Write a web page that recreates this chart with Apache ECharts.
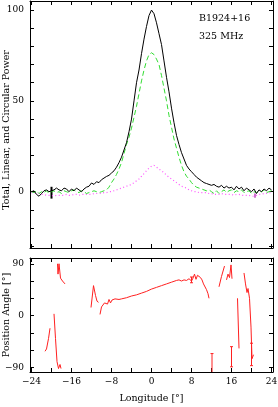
<!DOCTYPE html>
<html><head><meta charset="utf-8">
<script src="https://cdn.jsdelivr.net/npm/echarts@6/dist/echarts.min.js"></script>
<style>html,body{margin:0;padding:0;background:#fff}#c{width:278px;height:407px}</style>
</head><body><div id="c"></div>
<script>
// Longitude grid (deg)
const lon = [-24,-23.5,-23,-22.5,-22,-21.5,-21,-20.5,-20,-19.5,-19,-18.5,-18,-17.5,-17,-16.5,-16,-15.5,-15,-14.5,-14,-13.5,-13,-12.5,-12,-11.5,-11,-10.5,-10,-9.5,-9,-8.5,-8,-7.5,-7,-6.5,-6,-5.5,-5,-4.5,-4,-3.5,-3,-2.5,-2,-1.5,-1,-0.5,0,0.5,1,1.5,2,2.5,3,3.5,4,4.5,5,5.5,6,6.5,7,7.5,8,8.5,9,9.5,10,10.5,11,11.5,12,12.5,13,13.5,14,14.5,15,15.5,16,16.5,17,17.5,18,18.5,19,19.5,20,20.5,21,21.5,22,22.5,23,23.5,24];
// Total power
const totalI = [0,0.5,-1.5,-2.5,-1,0.5,1,0,0.5,1,2,1,0.5,2,1.5,0,1.5,0.5,2,1,0,1.5,2.5,3,4.8,4,5.5,5,6.6,7.5,8.4,9,10.3,11.5,13.5,16,19,23,27,33,40,50,60,67,76,84,91,97,100,98,93,87,81,72,63,55,46,38,31,26,21.5,18,14.5,12.5,11,9.5,8,7,6,5,4.5,4,3.5,4,3,2.5,3.5,2,3,2,2.5,1,3,1.5,2.5,0.5,2,1,0,1.5,-1,1,0,1.5,0.5,2,1];
// Linear power
const linearL = [0,-0.5,0.5,-1,0,-0.5,0.5,-1,0,0.5,-0.5,0,-1,0.5,0,-0.5,0.5,1,0,-0.5,0.5,0,-1,-0.5,0,0.5,0,-0.5,0,0.5,1,2.5,5,7,9.5,12.5,16,21,26,30,35,41,47,54,61,67,72,75.5,76.5,75.5,73,70,64,57,50,42,35.5,29,24,19,14.5,11,8.5,7,5,3.5,2.5,2,1.5,1,0.5,1,0,-1,0.5,-1,0,1,-0.5,0.5,1,-0.5,0.5,0,1,-0.5,0,0.5,-1,0,-0.5,0.5,0,1,-0.5,0,0.5];
// Circular power
const circularV = [-0.5,-0.5,-1,-1,-1.5,-1.5,-2,-2,-2,-2.5,-2,-2,-2,-2,-1.5,-2,-2,-1.5,-1.5,-2,-1.5,-1.5,-1.5,-1.5,-1.5,-1,-1,-1,-1,-0.5,-0.5,0,0,0.5,1,1.5,2,2.5,3,3.5,4,5,6,7,8.5,10,11.5,13,14,14.5,13.5,12.5,11.5,10.5,9,8,7,6,5,4,3,2.5,2,1,0.5,0,0,-0.5,-0.5,-0.5,-0.5,-1,-1,-1.5,-1.5,-1.5,-1,-1.5,-1.5,-1.5,-1.5,-2,-1.5,-1.5,-2,-2,-2,-2,-2.5,-2.5,-2,-1.5,-1.5,-1,-1,-0.5,-0.5];
// Noise error bars in the power panel: [lon, low, high]
const powerErr = [[-20,-3.8,2.7],[20.7,-3.3,-1]];
// Position angle (null separates segments)
const paLon = [-21.3,-21.0,-20.6,-20.3,null,
  -19.5,-19.2,-18.9,-18.6,-18.3,-18.1,null,
  -18.8,-18.7,-18.5,-18.2,-17.8,-17.3,null,
  -12.1,-11.6,-11.2,-10.9,-10.6,null,
  -10.3,-10.0,-9.7,-9.4,-9.1,-8.8,-8.5,-8.2,-7.9,-7.6,-7.3,-7.0,-6.5,-6,-5,-4,-3,-2,-1,0,1,2,3,4,5,5.5,6,6.5,7,7.5,8,8.3,8.6,8.9,9.2,9.5,9.8,10.1,10.4,10.7,11.0,11.3,11.5,null,
  13.5,14.0,14.6,null,
  15.0,15.3,15.6,15.9,16.1,null,
  17.2,17.5,null,
  18.5,18.8,19.1,19.3,19.6,19.9,20.1,20.4];
const paVal = [-62,-58,-40,-22,null,
  3,-40,-80,-92,-85,-92,null,
  90,72,90,65,60,55,null,
  14,52,35,25,23,null,
  2,15,12,22,25,20,28,22,27,24,29,27,28,29,31,34,36,39,42,46,49,52,55,58,61,62,60,62,61,64,60,65,72,63,70,73,66,62,55,52,45,38,30,null,
  50,68,86,null,
  62,72,66,88,64,null,
  30,-57,null,
  74,55,40,47,30,-20,-75,-68];
// PA error bars: [lon, low, high]
const paErr = [[8.0,57,67],[12.1,-110,-66],[16.0,-89,-54],[20.0,-87,-48]];
// Tick values
const xTicks = [-24,-20,-16,-12,-8,-4,0,4,8,12,16,20,24];
const xLabels = [-24,-16,-8,0,8,16,24];
const powTicks = [-30,-20,-10,0,10,20,30,40,50,60,70,80,90,100];
const powLabels = [0,50,100];
const paTicks = [-90,-60,-30,0,30,60,90];
const paLabels = [-90,0,90];

const zip = (a,b) => a.map((v,i) => [v, b[i]]);
const paData = paLon.map((v,i) => v === null ? [null,null] : [v, paVal[i]]);

const SERIF = '"DejaVu Serif", "Liberation Serif", serif';
const minus = v => String(v).replace('-', '\u2212');

function axisCommon(extra) {
  return Object.assign({
    type: 'value',
    axisLine: {show: true, onZero: false, lineStyle: {color: '#000', width: 1}},
    splitLine: {show: false},
    minorTick: {show: false},
    nameMoveOverlap: false
  }, extra);
}
function xAxis(grid, pos, showLabels, name) {
  return axisCommon({
    gridIndex: grid, position: pos, min: -24.3, max: 24.3,
    axisTick: {show: true, inside: true, length: 4, customValues: xTicks, lineStyle: {color: '#000'}},
    axisLabel: {show: showLabels, customValues: xLabels, margin: 5, color: '#000', fontFamily: SERIF, fontSize: 9, formatter: minus},
    name: name || '', nameLocation: 'middle', nameGap: 22,
    nameTextStyle: {fontFamily: SERIF, fontSize: 9.5, color: '#000'}
  });
}
function yAxis(grid, pos, min, max, ticks, labels, showLabels, name) {
  return axisCommon({
    gridIndex: grid, position: pos, min: min, max: max,
    axisTick: {show: true, inside: true, length: 4, customValues: ticks, lineStyle: {color: '#000'}},
    axisLabel: {show: showLabels, customValues: labels, margin: 6, color: '#000', fontFamily: SERIF, fontSize: 9, formatter: minus},
    name: name || '', nameLocation: 'middle', nameGap: 18, nameRotate: 90,
    nameTextStyle: {fontFamily: SERIF, fontSize: 9.5, color: '#000'}
  });
}

function errRender(cap, width, color) {
  return function (params, api) {
    const x = api.value(0);
    const p1 = api.coord([x, api.value(1)]);
    const p2 = api.coord([x, api.value(2)]);
    const children = [{type: 'line', shape: {x1: p1[0], y1: p1[1], x2: p2[0], y2: p2[1]}, style: {stroke: color, lineWidth: width}}];
    if (cap > 0) {
      children.push({type: 'line', shape: {x1: p1[0]-cap, y1: p1[1], x2: p1[0]+cap, y2: p1[1]}, style: {stroke: color, lineWidth: 1}});
      children.push({type: 'line', shape: {x1: p2[0]-cap, y1: p2[1], x2: p2[0]+cap, y2: p2[1]}, style: {stroke: color, lineWidth: 1}});
    }
    return {type: 'group', children: children};
  };
}

const chart = echarts.init(document.getElementById('c'), null, {renderer: 'canvas'});
chart.setOption({
  animation: false,
  backgroundColor: '#fff',
  grid: [
    {left: 30, top: 1, width: 243, height: 247, containLabel: false, outerBoundsMode: 'none'},
    {left: 30, top: 258, width: 243, height: 114, containLabel: false, outerBoundsMode: 'none'}
  ],
  xAxis: [
    xAxis(0, 'bottom', false),
    xAxis(0, 'top', false),
    xAxis(1, 'bottom', true, 'Longitude [\u00b0]'),
    xAxis(1, 'top', false)
  ],
  yAxis: [
    yAxis(0, 'left', -31, 105, powTicks, powLabels, true),
    yAxis(0, 'right', -31, 105, powTicks, powLabels, false),
    yAxis(1, 'left', -98, 100, paTicks, paLabels, true, 'Position Angle [\u00b0]'),
    yAxis(1, 'right', -98, 100, paTicks, paLabels, false)
  ],
  graphic: [
    {type: 'text', x: 7, y: 130, rotation: Math.PI / 2,
      style: {text: 'Total, Linear, and Circular Power', font: '9.5px ' + SERIF, fill: '#000', align: 'center', verticalAlign: 'middle'}},
    {type: 'text', left: 199, top: 14, style: {text: 'B1924+16', font: '9.5px ' + SERIF, fill: '#000'}},
    {type: 'text', left: 199, top: 32, style: {text: '325 MHz', font: '9.5px ' + SERIF, fill: '#000'}}
  ],
  series: [
    {type: 'line', xAxisIndex: 0, yAxisIndex: 0, data: zip(lon, circularV), symbol: 'none',
      lineStyle: {color: '#ff55ff', width: 1.2, type: [1, 2.5]}},
    {type: 'line', xAxisIndex: 0, yAxisIndex: 0, data: zip(lon, linearL), symbol: 'none',
      lineStyle: {color: '#33dd33', width: 1, type: [5, 3]}},
    {type: 'line', xAxisIndex: 0, yAxisIndex: 0, data: zip(lon, totalI), symbol: 'none',
      lineStyle: {color: '#000', width: 1}},
    {type: 'custom', xAxisIndex: 0, yAxisIndex: 0, data: powerErr.slice(0,1), renderItem: errRender(0, 2, '#000')},
    {type: 'custom', xAxisIndex: 0, yAxisIndex: 0, data: powerErr.slice(1), renderItem: errRender(0, 1.5, '#c040c0')},
    {type: 'line', xAxisIndex: 2, yAxisIndex: 2, data: paData, symbol: 'none', connectNulls: false,
      lineStyle: {color: '#ff2020', width: 1}},
    {type: 'custom', xAxisIndex: 2, yAxisIndex: 2, data: paErr, clip: true, renderItem: errRender(1.5, 1, '#ff2020')}
  ]
});
</script></body></html>
